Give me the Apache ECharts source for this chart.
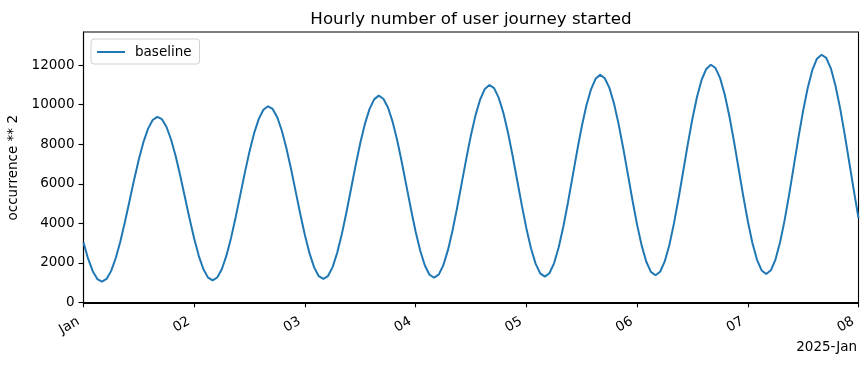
<!DOCTYPE html>
<html>
<head>
<meta charset="utf-8">
<script src="https://cdn.jsdelivr.net/npm/echarts@6/dist/echarts.min.js"></script>
<style>
html,body{margin:0;padding:0;background:#fff;}
#chart{width:868px;height:365px;}
</style>
</head>
<body>
<div id="chart"></div>
<script>
// Hour offsets from 2025-01-01 00:00 (hourly samples)
const startLabel = '2025-Jan';
const dayTickLabels = ['Jan','02','03','04','05','06','07','08'];
const yTickValues = [0,2000,4000,6000,8000,10000,12000];
const seriesName = 'baseline';
// hourly values (169 points, Jan 01 00:00 .. Jan 08 00:00)
const baseline = [
  3032,2209,1575,1177,1042,1183,1591,2242,3093,4086,5157,6233,7241,8113,8789,9224,9387,9267,8872,8227,7378,6381,5305,4224,
  3213,2341,1671,1249,1110,1255,1687,2374,3273,4322,5452,6587,7651,8571,9284,9742,9920,9785,9366,8685,7788,6735,5600,4459,
  3393,2474,1767,1322,1185,1328,1783,2507,3453,4558,5747,6942,8062,9029,9779,10270,10460,10303,9861,9143,8198,7090,5895,4695,
  3573,2606,1862,1395,1250,1401,1878,2639,3633,4793,6043,7297,8472,9487,10273,10800,11000,10840,10356,9602,8609,7445,6190,4930,
  3753,2738,1958,1467,1301,1473,1974,2771,3813,5029,6338,7652,8882,9945,10768,11310,11510,11338,10851,10060,9019,7800,6485,5166,
  3933,2870,2054,1540,1370,1546,2070,2904,3993,5264,6633,8007,9293,10403,11263,11813,12020,11856,11345,10518,9430,8155,6781,5402,
  4113,3003,2149,1613,1431,1619,2165,3036,4173,5500,6928,8362,9703,10861,11758,12331,12530,12374,11840,10976,9840,8509,7076,5637,
  4260
];
const hours = baseline.map((v, i) => i);

const FONT = 'DejaVu Sans';
const chart = echarts.init(document.getElementById('chart'), null, {renderer: 'canvas'});
chart.setOption({
  animation: false,
  backgroundColor: '#ffffff',
  title: [
    {
      text: 'Hourly number of user journey started',
      left: 466, top: 6, textAlign: 'center',
      textStyle: {fontFamily: FONT, fontSize: 16.7, fontWeight: 'normal', color: '#000'}
    },
    {
      text: startLabel,
      right: 6, top: 335,
      textStyle: {fontFamily: FONT, fontSize: 13.5, fontWeight: 'normal', color: '#000'}
    }
  ],
  legend: {
    left: 91, top: 39,
    padding: [6, 8, 5, 6],
    icon: 'rect',
    itemWidth: 28, itemHeight: 2, itemGap: 8,
    borderColor: '#d0d0d0', borderWidth: 1, borderRadius: 3,
    backgroundColor: '#fff',
    textStyle: {fontFamily: FONT, fontSize: 13.5, color: '#000', padding: [0, 0, 0, 5]},
    data: [seriesName]
  },
  grid: {
    left: 83.5, right: 9.5, top: 32, bottom: 61.5,
    outerBoundsMode: 'none',
    show: true, borderColor: '#000', borderWidth: 1.1, backgroundColor: 'transparent',
    containLabel: false
  },
  xAxis: {
    type: 'value',
    min: 0, max: 168, interval: 24,
    splitLine: {show: false},
    axisLine: {show: true, lineStyle: {color: '#000', width: 1.1}},
    axisTick: {show: true, inside: false, length: 5, lineStyle: {color: '#000', width: 1.1}},
    axisLabel: {
      rotate: 30, margin: 14, padding: [0, 6, 0, 0],
      fontFamily: FONT, fontSize: 13.5, color: '#000',
      formatter: (v) => dayTickLabels[Math.round(v / 24)] || ''
    }
  },
  yAxis: {
    type: 'value',
    min: -60, max: 13680,
    name: 'occurrence ** 2',
    nameLocation: 'middle',
    nameGap: 60,
    nameRotate: 90,
    nameTextStyle: {fontFamily: FONT, fontSize: 13.5, color: '#000'},
    splitLine: {show: false},
    axisLine: {show: true, lineStyle: {color: '#000', width: 1.1}},
    axisTick: {show: true, inside: false, length: 5, customValues: yTickValues, lineStyle: {color: '#000', width: 1.1}},
    axisLabel: {
      margin: 9, customValues: yTickValues,
      fontFamily: FONT, fontSize: 13.5, color: '#000',
      formatter: (v) => String(v)
    }
  },
  series: [{
    name: seriesName,
    type: 'line',
    data: hours.map((h, i) => [h, baseline[i]]),
    symbol: 'none',
    smooth: false,
    lineStyle: {color: '#1f77b4', width: 2},
    itemStyle: {color: '#1f77b4'}
  }]
});
</script>
</body>
</html>
